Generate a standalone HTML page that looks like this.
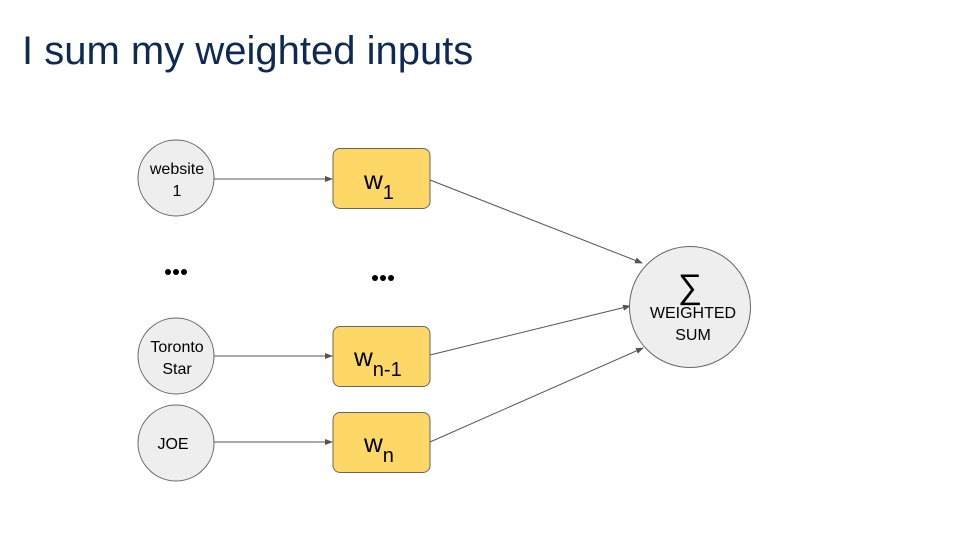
<!DOCTYPE html>
<html><head><meta charset="utf-8"><style>
body{margin:0;width:960px;height:540px;background:#fff;overflow:hidden;font-family:"Liberation Sans",Arial,sans-serif}
</style></head><body>
<svg width="960" height="540" xmlns="http://www.w3.org/2000/svg" font-family="Liberation Sans, Arial, sans-serif">
<defs><marker id="a" markerWidth="8" markerHeight="8" refX="7" refY="4" orient="auto" markerUnits="userSpaceOnUse"><path d="M0,1 L8,4 L0,7z" fill="#555"/></marker></defs>
<text x="22" y="64" font-size="40" fill="#0f2a52">I sum my weighted inputs</text>
<g stroke="#555" stroke-width="1" fill="none" marker-end="url(#a)">
<line x1="214" y1="179" x2="332" y2="179"/>
<line x1="214" y1="356" x2="332" y2="356"/>
<line x1="214" y1="442" x2="332" y2="442"/>
<line x1="430" y1="180" x2="642" y2="263"/>
<line x1="430" y1="355" x2="630" y2="306"/>
<line x1="430" y1="442" x2="643" y2="348"/>
</g>
<g fill="#eeeeee" stroke="#666" stroke-width="1">
<circle cx="176" cy="178" r="38"/>
<circle cx="176" cy="356" r="38"/>
<circle cx="176" cy="443" r="38"/>
<circle cx="690" cy="307" r="60.5"/>
</g>
<g fill="#fdd866" stroke="#666" stroke-width="1">
<rect x="333" y="148.5" width="97" height="60" rx="7"/>
<rect x="333" y="326.5" width="97" height="60" rx="7"/>
<rect x="333" y="412.5" width="97" height="60" rx="7"/>
</g>
<g font-size="16" fill="#000" text-anchor="middle">
<text x="177" y="174">website</text><text x="177" y="196">1</text>
<text x="177" y="352">Toronto</text><text x="177" y="374">Star</text>
<text x="173" y="449">JOE</text>
<text x="693" y="318">WEIGHTED</text><text x="693" y="340">SUM</text>
</g>
<text x="690" y="298" font-size="34" text-anchor="middle">∑</text>
<g font-size="26" fill="#000">
<text x="364" y="189">w<tspan font-size="20" dy="10">1</tspan></text>
<text x="354" y="366">w<tspan font-size="20" dy="10">n-1</tspan></text>
<text x="364" y="452">w<tspan font-size="20" dy="10">n</tspan></text>
</g>
<g fill="#000">
<circle cx="168" cy="272" r="3"/><circle cx="176" cy="272" r="3"/><circle cx="184" cy="272" r="3"/>
<circle cx="375" cy="278" r="3"/><circle cx="383" cy="278" r="3"/><circle cx="391" cy="278" r="3"/>
</g>
</svg>
</body></html>
